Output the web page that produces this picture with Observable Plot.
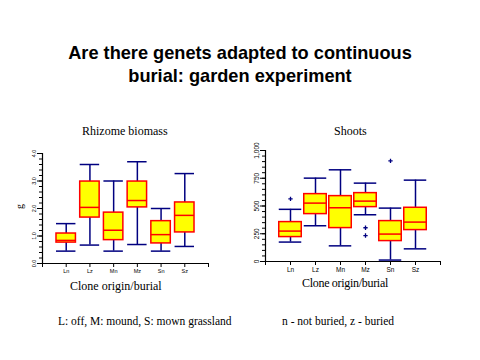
<!DOCTYPE html>
<html>
<head>
<meta charset="utf-8">
<script src="https://cdn.jsdelivr.net/npm/d3@7"></script>
<script src="https://cdn.jsdelivr.net/npm/@observablehq/plot@0.6"></script>
<style>
  html, body { margin: 0; padding: 0; background: #fff; }
  #page { position: relative; width: 480px; height: 360px; overflow: hidden; background: #fff; }
  .abs { position: absolute; white-space: nowrap; }
  .title { font-family: "Liberation Sans", Arial, sans-serif; font-weight: bold; font-size: 18.2px; left: 0; width: 480px; text-align: center; color: #000; }
  .serif { font-family: "Liberation Serif", "Times New Roman", serif; font-size: 12px; color: #000; }
  .plot { position: absolute; }
</style>
</head>
<body>
<div id="page">
  <div class="abs title" style="top:43px;">Are there genets adapted to continuous</div>
  <div class="abs title" style="top:66px;">burial: garden experiment</div>
  <div class="abs serif" style="left:82px; top:124px;">Rhizome biomass</div>
  <div class="abs serif" style="left:334px; top:124px;">Shoots</div>
  <div class="abs serif" style="left:70px; top:279px;">Clone origin/burial</div>
  <div class="abs serif" style="left:302px; top:276px; letter-spacing:-0.3px;">Clone origin/burial</div>
  <div class="abs serif" style="left:58px; top:315px; font-size:11.5px;">L: off, M: mound, S: mown grassland</div>
  <div class="abs serif" style="left:282px; top:315px; font-size:11.5px;">n - not buried, z - buried</div>
  <div class="abs serif" style="left:17px; top:201px; font-size:10px; transform: rotate(-90deg);">g</div>
  <div id="left" class="plot" style="left:0px; top:140px;"></div>
  <div id="right" class="plot" style="left:240px; top:135px;"></div>
</div>
<script>
// Categories
const groups = ["Ln", "Lz", "Mn", "Mz", "Sn", "Sz"];

// Rhizome biomass box statistics
const bioLow  = [0.45, 0.67, 0.45, 0.69, 0.45, 0.62];
const bioQ1   = [0.76, 1.67, 0.85, 2.04, 0.73, 1.13];
const bioMed  = [0.84, 2.04, 1.21, 2.29, 1.05, 1.75];
const bioQ3   = [1.09, 2.98, 1.85, 2.98, 1.54, 2.22];
const bioHigh = [1.45, 3.60, 3.00, 3.70, 2.00, 3.27];
const bioTicks = [0, 1, 2, 3, 4];

// Shoots box statistics
const shLow  = [175, 322, 141, 421, 13, 114];
const shQ1   = [220, 427, 301, 490, 184, 283];
const shMed  = [274, 526, 484, 544, 247, 355];
const shQ3   = [355, 607, 589, 616, 364, 484];
const shHigh = [470, 751, 826, 706, 481, 733];
const shOutGroup = ["Ln", "Mz", "Mz", "Sn"];
const shOutValue = [565, 304, 234, 907];
const shTicks = [0, 250, 500, 750, 1000];

const navy = "#000080", red = "#ff0000", yellow = "#ffff00";

function boxMarks(low, q1, med, q3, high, halfBox) {
  const rows = groups.map((g, i) => ({g, pos: i + 1, low: low[i], q1: q1[i], med: med[i], q3: q3[i], high: high[i]}));
  return [
    Plot.ruleX(rows, {x: "pos", y1: "low", y2: "high", stroke: navy, strokeWidth: 1.5}),
    Plot.ruleY(rows, {y: "low", x1: d => d.pos - halfBox, x2: d => d.pos + halfBox, stroke: navy, strokeWidth: 1.5}),
    Plot.ruleY(rows, {y: "high", x1: d => d.pos - halfBox, x2: d => d.pos + halfBox, stroke: navy, strokeWidth: 1.5}),
    Plot.rect(rows, {x1: d => d.pos - halfBox, x2: d => d.pos + halfBox, y1: "q1", y2: "q3", fill: yellow, stroke: red, strokeWidth: 1.5}),
    Plot.ruleY(rows, {y: "med", x1: d => d.pos - halfBox, x2: d => d.pos + halfBox, stroke: red, strokeWidth: 1.5})
  ];
}

function axesMarks(ticks, minorTicks, labelSize) {
  const lo = ticks[0];
  return [
    Plot.ruleX([0], {y1: lo, y2: ticks[ticks.length - 1], stroke: "#000", strokeWidth: 1.2}),
    Plot.ruleY([lo], {x1: 0, x2: 7, stroke: "#000", strokeWidth: 1.2}),
    Plot.axisY({ticks: minorTicks, tickSize: 3, tickFormat: () => "", label: null, stroke: "#000"}),
    Plot.axisY({ticks: ticks, tickSize: 5, tickRotate: -90, label: null, fontSize: labelSize, fontFamily: "Liberation Sans", tickPadding: 2, stroke: "#000", fill: "#000"}),
    Plot.axisX({ticks: [0, 1, 2, 3, 4, 5, 6, 7], tickSize: 4, label: null, tickFormat: d => (d >= 1 && d <= 6 ? groups[d - 1] : ""), fontSize: labelSize, fontFamily: "Liberation Sans", tickPadding: 2, stroke: "#000", fill: "#000"})
  ];
}

const bioMinor = d3.range(0, 4.001, 0.2).map(v => +v.toFixed(2));
const left = Plot.plot({
  width: 230, height: 150,
  marginLeft: 42, marginRight: 22, marginTop: 13, marginBottom: 27,
  x: {domain: [0, 7], axis: null},
  y: {domain: [0, 4], axis: null},
  style: {background: "transparent", overflow: "visible"},
  marks: [
    ...boxMarks(bioLow, bioQ1, bioMed, bioQ3, bioHigh, 0.41),
    ...axesMarks(bioTicks, bioMinor, 5.5)
  ]
});
document.getElementById("left").appendChild(left);

const shMinor = d3.range(0, 1000.1, 50);
const outliers = shOutGroup.map((g, i) => ({pos: groups.indexOf(g) + 1, v: shOutValue[i]}));
const right = Plot.plot({
  width: 220, height: 150,
  marginLeft: 25, marginRight: 20, marginTop: 15, marginBottom: 24,
  x: {domain: [0, 7], axis: null},
  y: {domain: [0, 1000], axis: null},
  style: {background: "transparent", overflow: "visible"},
  marks: [
    ...boxMarks(shLow, shQ1, shMed, shQ3, shHigh, 0.45),
    Plot.dot(outliers, {x: "pos", y: "v", symbol: "plus", r: 1.5, stroke: navy, strokeWidth: 1.3}),
    ...axesMarks(shTicks, shMinor, 6.5)
  ]
});
document.getElementById("right").appendChild(right);
</script>
</body>
</html>
